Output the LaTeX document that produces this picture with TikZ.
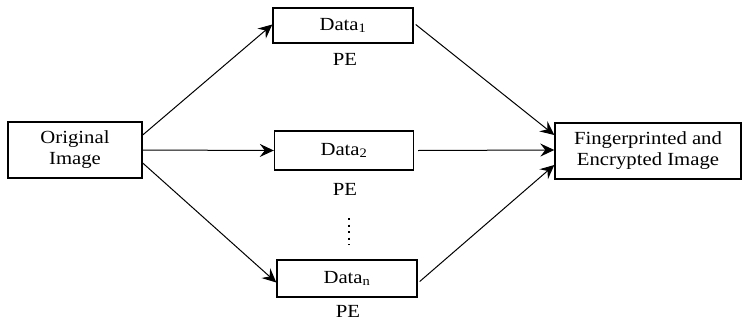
\documentclass[tikz,border=0pt]{standalone}
\usepackage{fontspec}
\setmainfont{Liberation Serif}[FakeStretch=1.12]
\usetikzlibrary{arrows.meta}
\begin{document}
\begin{tikzpicture}[x=1pt,y=-1pt,
  box/.style={draw,line width=1.4pt,inner sep=0pt,align=center,font=\fontsize{18.5}{21}\selectfont},
  lbl/.style={font=\fontsize{18.5}{21}\selectfont,inner sep=0pt},
  arr/.style={line width=1pt,-{Stealth[length=14pt,width=13pt,inset=5pt,line width=1pt]}}]
\useasboundingbox (0,0) rectangle (743,324);
\node[box,minimum width=134pt,minimum height=56pt] (orig) at (75,150) {Original\\Image};
\node[box,minimum width=140pt,minimum height=35pt] (d1) at (343,25.5) {Data\textsubscript{1}};
\node[box,minimum width=139pt,minimum height=39pt] (d2) at (344,150.5) {Data\textsubscript{2}};
\node[box,minimum width=140pt,minimum height=37pt] (dn) at (347,278.5) {Data\textsubscript{n}};
\node[box,minimum width=186pt,minimum height=56pt] (fe) at (648,151) {Fingerprinted and\\Encrypted Image};
\node[lbl] (p1) at (345,59) {PE};
\node[lbl] (p2) at (345,189) {PE};
\node[lbl] (pn) at (348,311) {PE};
\coordinate (dt) at (349,218);
\coordinate (db) at (349,245);
\draw[line width=1.4pt,dash pattern=on 2pt off 4.5pt] (dt) -- (db);
\draw[arr] ([yshift=15pt]orig.east) -- ([yshift=1pt]d1.west);
\draw[arr] (orig.east) -- (d2.west);
\draw[arr] ([yshift=-13pt]orig.east) -- ([yshift=-4pt]dn.west);
\draw[arr] ([xshift=2pt,yshift=1pt]d1.east) -- ([yshift=16pt]fe.west);
\draw[arr] ([xshift=4pt]d2.east) -- ([yshift=1pt]fe.west);
\draw[arr] ([xshift=2pt,yshift=-3pt]dn.east) -- ([yshift=-14pt]fe.west);
\end{tikzpicture}
\end{document}
